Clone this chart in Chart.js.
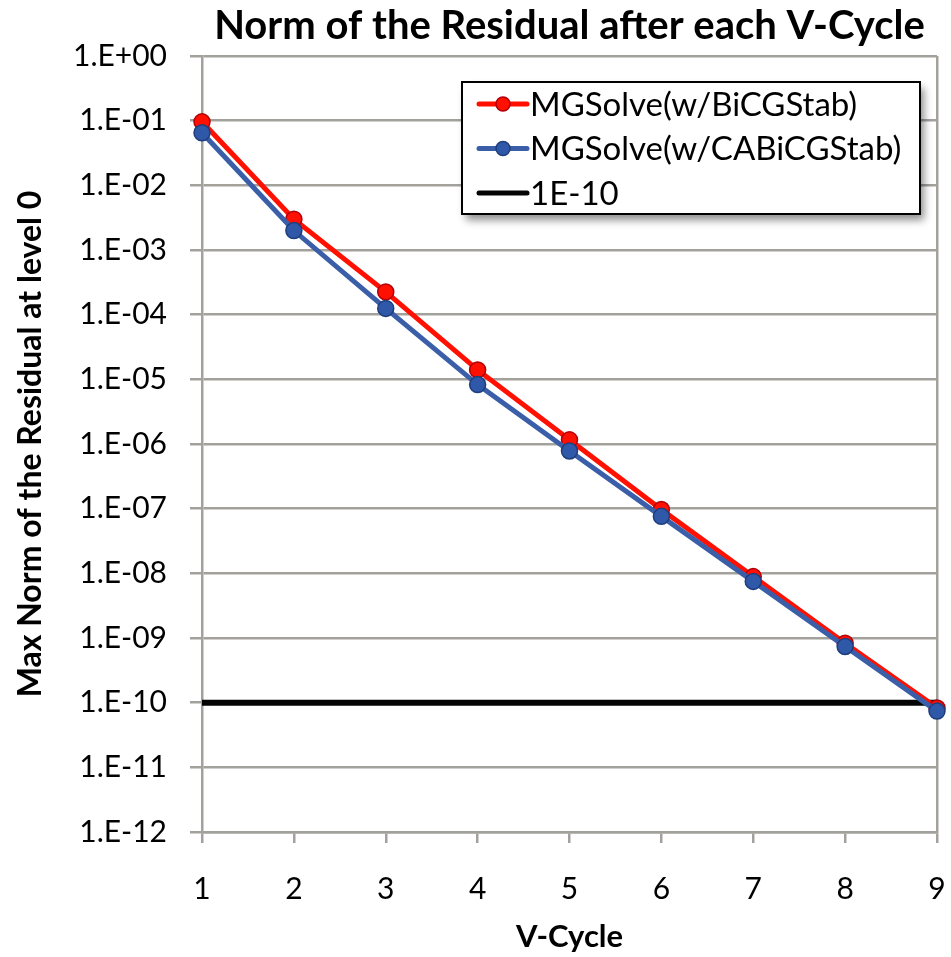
<!DOCTYPE html>
<html>
<head>
<meta charset="utf-8">
<script src="https://cdn.jsdelivr.net/npm/chart.js@4.4.1/dist/chart.umd.min.js"></script>
<style>
  html, body { margin: 0; padding: 0; background: #fff; }
  #wrap { width: 951px; height: 957px; }
</style>
</head>
<body>
<div id="wrap"><canvas id="residualChart" width="951" height="957"></canvas></div>
<script>
// V-cycle index and max residual norm at level 0
const vCycles = [1, 2, 3, 4, 5, 6, 7, 8, 9];
const bicgstabResidual = [9.6e-2, 3.0e-3, 2.25e-4, 1.4e-5, 1.16e-6, 9.7e-8, 8.9e-9, 8.3e-10, 8.3e-11];
const cabicgstabResidual = [6.5e-2, 2.0e-3, 1.25e-4, 8.3e-6, 7.8e-7, 7.6e-8, 7.5e-9, 7.4e-10, 7.4e-11];
const tolerance = 1e-10;

const yTickLabels = ['1.E+00', '1.E-01', '1.E-02', '1.E-03', '1.E-04', '1.E-05', '1.E-06',
  '1.E-07', '1.E-08', '1.E-09', '1.E-10', '1.E-11', '1.E-12'];
const yTickValues = yTickLabels.map((s) => Number(s.replace('.E', 'E')));

const gridGrey = '#a3a19c';
const tickFont = { family: 'Lato', size: 30 };

const toPoints = (ys) => vCycles.map((x, i) => ({ x, y: ys[i] }));

// Boxed legend inside the plot, with a drop shadow
const boxLegend = {
  id: 'boxLegend',
  afterDraw(chart, args, opts) {
    const ctx = chart.ctx;
    const { x, y, width, height, rowHeight, firstRow, sampleWidth } = opts;
    ctx.save();
    ctx.shadowColor = 'rgba(0,0,0,0.45)';
    ctx.shadowOffsetX = 4;
    ctx.shadowOffsetY = 6;
    ctx.shadowBlur = 8;
    ctx.fillStyle = '#fff';
    ctx.fillRect(x, y, width, height);
    ctx.shadowColor = 'transparent';
    ctx.lineWidth = 2;
    ctx.strokeStyle = '#000';
    ctx.strokeRect(x, y, width, height);

    ctx.font = '33px Lato';
    ctx.textBaseline = 'middle';
    ctx.textAlign = 'left';
    chart.data.datasets.forEach((ds, i) => {
      const ry = y + firstRow + i * rowHeight;
      const lx = x + 17;
      ctx.strokeStyle = ds.borderColor;
      ctx.lineWidth = Math.min(ds.borderWidth, 5);
      ctx.lineCap = 'round';
      ctx.beginPath();
      ctx.moveTo(lx, ry);
      ctx.lineTo(lx + sampleWidth, ry);
      ctx.stroke();
      if (ds.pointRadius > 0) {
        ctx.beginPath();
        ctx.arc(lx + sampleWidth / 2, ry, 7, 0, Math.PI * 2);
        ctx.fillStyle = ds.pointBackgroundColor;
        ctx.fill();
        ctx.lineWidth = 1.5;
        ctx.strokeStyle = ds.pointBorderColor;
        ctx.stroke();
      }
      ctx.fillStyle = '#000';
      ctx.fillText(ds.label, lx + sampleWidth + 3, ry + 1);
    });
    ctx.restore();
  }
};

new Chart(document.getElementById('residualChart'), {
  type: 'line',
  data: {
    datasets: [
      {
        label: 'MGSolve(w/BiCGStab)',
        data: toPoints(bicgstabResidual),
        borderColor: '#ff1000',
        borderWidth: 5,
        pointRadius: 8,
        pointBorderWidth: 1.5,
        pointBackgroundColor: '#ff1000',
        pointBorderColor: '#b0000a',
        clip: false,
        order: 2
      },
      {
        label: 'MGSolve(w/CABiCGStab)',
        data: toPoints(cabicgstabResidual),
        borderColor: '#3b5ea8',
        borderWidth: 5,
        pointRadius: 8,
        pointBorderWidth: 1.5,
        pointBackgroundColor: '#2f58a8',
        pointBorderColor: '#1f3e7e',
        clip: false,
        order: 1
      },
      {
        label: '1E-10',
        data: [{ x: vCycles[0], y: tolerance }, { x: vCycles[vCycles.length - 1], y: tolerance }],
        borderColor: '#050505',
        borderWidth: 6,
        pointRadius: 0,
        clip: false,
        order: 3
      }
    ]
  },
  options: {
    responsive: false,
    animation: false,
    layout: { padding: { left: 0, right: 14, top: 0, bottom: 0 } },
    plugins: {
      legend: { display: false },
      tooltip: { enabled: false },
      title: {
        display: true,
        fullSize: false,
        text: 'Norm of the Residual after each V-Cycle',
        color: '#000',
        font: { family: 'Lato', size: 40, weight: 'bold' },
        padding: { top: 2, bottom: 6 }
      },
      boxLegend: { x: 462, y: 82, width: 458, height: 132, firstRow: 22, rowHeight: 44.5, sampleWidth: 48 }
    },
    scales: {
      x: {
        type: 'linear',
        min: 1,
        max: 9,
        afterBuildTicks: (scale) => { scale.ticks = vCycles.map((v) => ({ value: v })); },
        afterFit: (scale) => {
          scale.height = 125;
          scale.paddingLeft = 0;
          scale.paddingRight = 0;
        },
        ticks: { font: tickFont, color: '#000', padding: 28, maxRotation: 0 },
        grid: {
          color: (c) => (c.tick && c.tick.value === 9 ? gridGrey : 'rgba(0,0,0,0)'),
          tickColor: gridGrey,
          lineWidth: 2.5,
          tickLength: 11
        },
        border: { display: true, color: gridGrey, width: 2.5 },
        title: {
          display: true,
          text: 'V-Cycle',
          color: '#000',
          font: { family: 'Lato', size: 31, weight: 'bold' },
          padding: { top: 0, bottom: 1 }
        }
      },
      y: {
        type: 'logarithmic',
        min: 1e-12,
        max: 1,
        afterBuildTicks: (scale) => { scale.ticks = yTickValues.map((v) => ({ value: v })); },
        afterFit: (scale) => { scale.width = 202; },
        ticks: {
          font: tickFont,
          color: '#000',
          padding: 23,
          callback: (v) => yTickLabels[Math.round(-Math.log10(v))]
        },
        grid: { color: gridGrey, lineWidth: 2.5, tickLength: 12 },
        border: { display: true, color: gridGrey, width: 2.5 },
        title: {
          display: true,
          text: 'Max Norm of the Residual at level 0',
          color: '#000',
          font: { family: 'Lato', size: 32, weight: 'bold' },
          padding: { top: 11, bottom: 0 }
        }
      }
    }
  },
  plugins: [boxLegend]
});
</script>
</body>
</html>
